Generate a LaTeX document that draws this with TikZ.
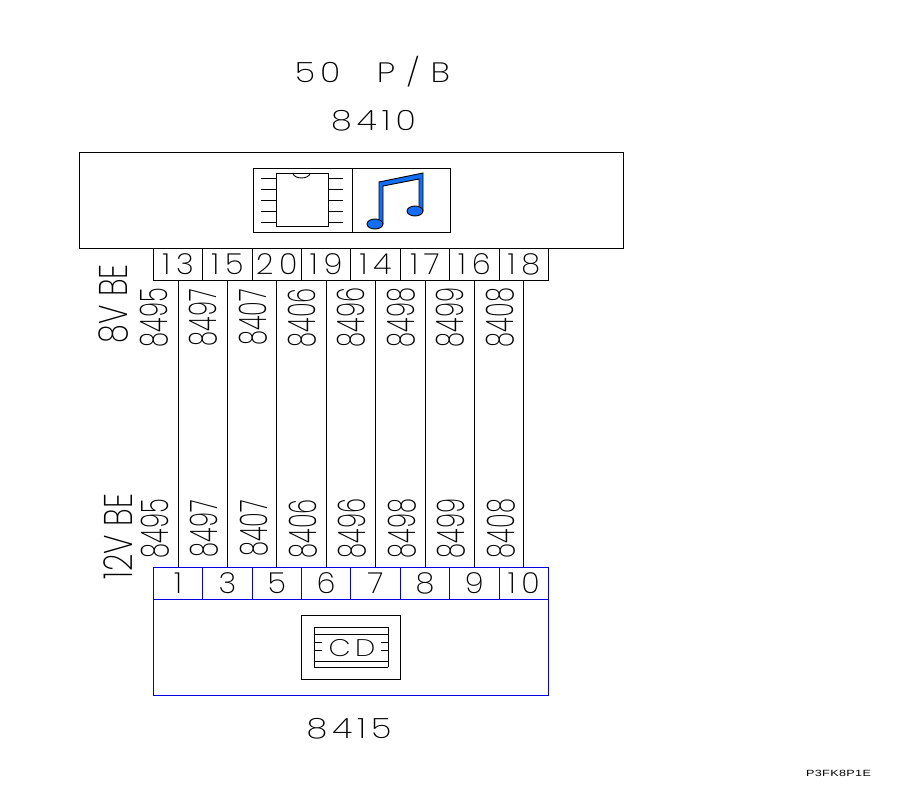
\documentclass[tikz,border=0pt]{standalone}
\usepackage{fontspec}
\usepackage{tikz}
\newfontfamily\cadwide[FakeStretch=1.2,LetterSpace=18]{Poppins ExtraLight}
\newfontfamily\cadpin[FakeStretch=1.05,LetterSpace=20]{Poppins ExtraLight}
\newfontfamily\cadnarrow[FakeStretch=.64]{Poppins ExtraLight}
\newfontfamily\cadside[FakeStretch=.76]{Poppins ExtraLight}
\newfontfamily\cadsmall[FakeStretch=1.4,LetterSpace=4]{Liberation Sans}
\definecolor{bluewire}{RGB}{0,0,230}
\definecolor{notefill}{RGB}{20,110,245}
\tikzset{
  thinline/.style={line width=0.9pt},
  cadbox/.style={draw, thinline, inner sep=0pt},
  toppin/.style={cadbox, minimum width=49.4pt, minimum height=32pt, font=\cadpin\fontsize{29}{29}\selectfont},
  botpin/.style={toppin, draw=bluewire},
  wirelabel/.style={inner sep=0pt, rotate=90, font=\cadnarrow\fontsize{38}{38}\selectfont},
  sidelabel/.style={inner sep=0pt, rotate=90, font=\cadside\fontsize{40}{40}\selectfont},
  bigtitle/.style={inner sep=0pt, font=\cadwide\fontsize{28}{28}\selectfont}
}
\begin{document}
\begin{tikzpicture}[x=1pt,y=-1pt]
\useasboundingbox (0,0) rectangle (900,800);

% titles
\node[bigtitle] (title) at (372.5,72) {50\hspace{22pt} P\hspace{11pt}/\hspace{11pt}B};
\node[bigtitle] (radio) at (373.5,120.5) {8410};
\node[bigtitle] (changer) at (349,728.5) {8415};
\node[inner sep=0pt, font=\cadsmall\fontsize{9}{9}\selectfont] (ref) at (838.5,773.5) {P3FK8P1E};

% radio box
\draw[thinline] (79,152) rectangle (623,248);
\draw[thinline] (253,168) rectangle (450,232);
\draw[thinline] (352,168) -- (352,232);

% chip
\draw[thinline] (276,173) rectangle (328,226);
\draw[thinline] (293,173) arc (180:0:8.5 and 5);
\foreach \leady in {178,189,200,211,222}{
  \draw[thinline] (261,\leady) -- (276,\leady);
  \draw[thinline] (328,\leady) -- (343,\leady);
}

% notes
\draw[thinline, fill=notefill] (379,224) -- (379,182) -- (423,173) -- (423,211) -- (419,211) -- (419,179) -- (383,186) -- (383,224) -- cycle;
\draw[thinline, fill=notefill] (375,224) ellipse (8 and 5);
\draw[thinline, fill=notefill] (415,211) ellipse (8 and 5);

% changer box
\draw[bluewire, thinline] (153,599) rectangle (548,695);
\draw[thinline] (301,615) rectangle (400,679);
\draw[thinline] (314,627) -- (314,667);
\draw[thinline] (388,627) -- (388,667);
\foreach \cdy in {627,634,661,667}
  \draw[thinline] (314,\cdy) -- (388,\cdy);
\foreach \cdy in {642,650}{
  \draw[thinline] (315,\cdy) -- (322,\cdy);
  \draw[thinline] (381,\cdy) -- (388,\cdy);
}
\node[inner sep=0pt, font=\cadwide\fontsize{24}{24}\selectfont] (cd) at (352,648) {CD};

% connectors
\foreach \pin/\num [count=\i from 0] in {t13/13,t15/15,t20/20,t19/19,t14/14,t17/17,t16/16,t18/18}
  \node[toppin] (\pin) at (178+49.4*\i,264) {\num};
\foreach \pin/\num [count=\i from 0] in {b1/1,b3/3,b5/5,b6/6,b7/7,b8/8,b9/9,b10/10}
  \node[botpin] (\pin) at (178+49.4*\i,583.5) {\num};

% wires
\foreach \a/\b in {t13/b1,t15/b3,t20/b5,t19/b6,t14/b7,t17/b8,t16/b9,t18/b10}
  \draw[thinline] (\a) -- (\b);

% wire numbers
\foreach \wire [count=\i from 0] in {8495,8497,8407,8406,8496,8498,8499,8408}{
  \node[wirelabel] (up\wire) at (154+49.4*\i,317.5) {\wire};
  \node[wirelabel] (dn\wire) at (155+49.4*\i,528.5) {\wire};
}

% supply labels
\node[sidelabel] (eightv) at (114,304) {8V BE};
\node[sidelabel] (twelvev) at (118,536.5) {12V BE};
\end{tikzpicture}
\end{document}
